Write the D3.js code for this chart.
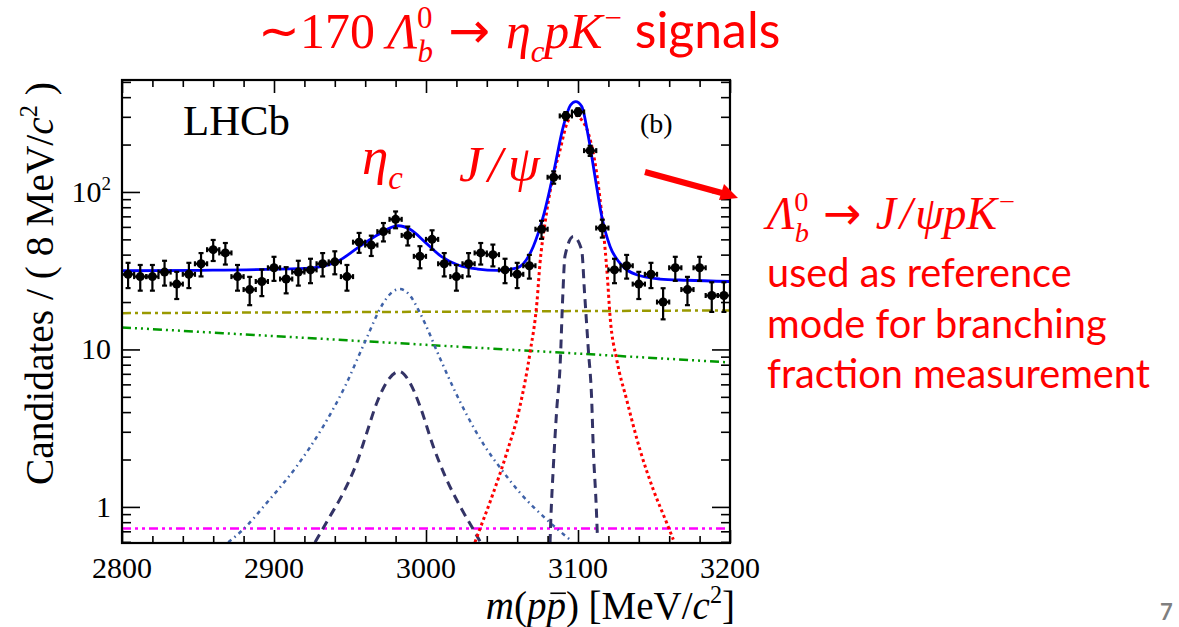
<!DOCTYPE html>
<html>
<head>
<meta charset="utf-8">
<script src="https://cdn.jsdelivr.net/npm/d3@7"></script>
<style>
  body { margin: 0; background: #fff; }
  svg { display: block; }
</style>
</head>
<body>
<svg id="chart" width="1179" height="627"></svg>
<script>
// bin centres (8 MeV bins) and candidate counts
var massBins = [2804, 2812, 2820, 2828, 2836, 2844, 2852, 2860, 2868, 2876,
  2884, 2892, 2900, 2908, 2916, 2924, 2932, 2940, 2948, 2956,
  2964, 2972, 2980, 2988, 2996, 3004, 3012, 3020, 3028, 3036,
  3044, 3052, 3060, 3068, 3076, 3084, 3092, 3100, 3108, 3116,
  3124, 3132, 3140, 3148, 3156, 3164, 3172, 3180, 3188, 3196];
var counts = [30, 29, 29, 31, 26, 30, 35, 43, 41, 29,
  24, 27, 33, 28, 31, 32, 35, 36, 29, 48,
  46, 56, 67, 53, 39, 50, 35, 29, 35, 41,
  40, 32, 30, 34, 58, 124, 304, 322, 183, 59,
  32, 34, 26, 30, 20, 33, 24, 33, 22, 22];

// fit curves: [mass, candidates]
var totalFit = [[2800, 31.6], [2851, 31.8], [2917, 32.6], [2929, 33.3], [2942, 36.3],
  [2955, 44.1], [2968, 53.3], [2981.6, 61.0], [2990, 57.5], [2999, 48.4],
  [3010, 39.0], [3021, 34.4], [3034, 32.4], [3047, 31.8], [3060, 33.0],
  [3070.6, 45.1], [3077.2, 70.2], [3083.8, 131], [3090.3, 260], [3095, 355],
  [3098.5, 375], [3102.4, 350], [3106.8, 225], [3111.2, 125], [3115.6, 70.2],
  [3121.1, 45.1], [3127.6, 35.3], [3138.6, 29.8], [3153.9, 28.0], [3171.5, 27.5], [3200, 27.0]];
var jpsiSignal = [[3032.2, 0.596], [3034.4, 0.68], [3044.3, 1.23], [3053.1, 2.2], [3061.8, 4.35],
  [3068.4, 9.5], [3073.0, 20], [3075.0, 35.3], [3078.3, 63.5], [3082.7, 114],
  [3088.2, 185], [3092.6, 270], [3097.4, 310], [3102.0, 290], [3106.8, 236],
  [3112.3, 131], [3116.2, 63.5], [3119.3, 29.1], [3121.1, 16.2], [3125.5, 8.6],
  [3132.0, 4.8], [3140.8, 2.3], [3149.5, 1.29], [3158.4, 0.79], [3162.7, 0.62]];
var jpsiNarrow = [[3081.6, 0.59], [3082.2, 0.87], [3083.8, 1.81], [3086.0, 4.14], [3088.2, 7.8],
  [3090.0, 22], [3091.4, 39], [3096.9, 52.1], [3102.4, 42.9], [3104.3, 23],
  [3106.8, 9.97], [3109.0, 4.8], [3110.1, 2.3], [3111.8, 1.11], [3112.7, 0.68]];
var etacNarrow = [[2927.0, 0.596], [2936.8, 0.87], [2945.6, 1.23], [2954.4, 1.90], [2961.0, 2.95],
  [2967.6, 4.57], [2975.2, 6.42], [2982.4, 7.25], [2989.5, 6.13], [2996.1, 4.35],
  [3004.8, 2.42], [3013.6, 1.49], [3022.4, 1.01], [3031.1, 0.72], [3035.5, 0.605]];
var etacBroad = [[2869.9, 0.596], [2879.8, 0.72], [2895.2, 1.06], [2914.9, 1.81], [2932.4, 3.25],
  [2946.7, 5.82], [2959.9, 11.2], [2971.9, 19.7], [2977, 22.8], [2982.9, 24.2],
  [2989, 22.3], [2996.1, 17.0], [3009.2, 8.8], [3018.0, 5.7], [3026.8, 3.85],
  [3038.8, 2.42], [3049.8, 1.72], [3061.8, 1.23], [3078.3, 0.85], [3094.7, 0.62]];
var bkgFlat = [[2800, 17.0], [3200, 17.7]];
var bkgExpo = [[2800, 13.8], [3000, 10.7], [3200, 8.27]];
var bkgSmall = [[2800, 0.73], [3200, 0.73]];

var xTickValues = [2800, 2900, 3000, 3100, 3200];
var xTickLabels = ["2800", "2900", "3000", "3100", "3200"];
var yTickValues = [1, 10, 100];
var yTickLabels = [["1"], ["10"], ["10", "2"]];
var yMinorTicks = [0.6, 0.7, 0.8, 0.9, 2, 3, 4, 5, 6, 7, 8, 9, 20, 30, 40, 50, 60, 70, 80, 90, 200, 300, 400, 500];

var SERIF = "'Liberation Serif', 'Times New Roman', serif";
var SANS = "Lato, 'Open Sans', sans-serif";
var ARROWFONT = "'DejaVu Sans', sans-serif";
var RED = "#ff0000";

var plot = {left: 122, right: 730, top: 80, bottom: 543};

var x = d3.scaleLinear().domain([2800, 3200]).range([plot.left, plot.right]);
var y = d3.scaleLog().domain([0.59, 514]).range([plot.bottom, plot.top]);

var svg = d3.select("#chart");
svg.append("rect").attr("width", 1179).attr("height", 627).attr("fill", "#fff");

svg.append("clipPath").attr("id", "clip")
  .append("rect")
    .attr("x", plot.left).attr("y", plot.top)
    .attr("width", plot.right - plot.left).attr("height", plot.bottom - plot.top);

// fit components
var line = d3.line()
  .x(function(d) { return x(d[0]); })
  .y(function(d) { return y(d[1]); })
  .curve(d3.curveMonotoneX);

var curves = [
  {data: bkgFlat, color: "#999900", dash: "9,4,3,4", width: 2.5},
  {data: bkgExpo, color: "#009900", dash: "9,4,2,4,2,4,2,4", width: 2.5},
  {data: bkgSmall, color: "#ff00ff", dash: "9,4,3,4,3,4", width: 2.5},
  {data: etacBroad, color: "#3f62a8", dash: "4,4,1.5,4", width: 2.5},
  {data: etacNarrow, color: "#333366", dash: "9,6", width: 3},
  {data: jpsiNarrow, color: "#333366", dash: "9,6", width: 3},
  {data: jpsiSignal, color: "#ff0000", dash: "3,3", width: 3},
  {data: totalFit, color: "#0000ff", dash: null, width: 2.8}
];

var curveG = svg.append("g").attr("clip-path", "url(#clip)");
curves.forEach(function(c) {
  curveG.append("path")
    .datum(c.data)
    .attr("d", line)
    .attr("fill", "none")
    .attr("stroke", c.color)
    .attr("stroke-width", c.width)
    .attr("stroke-dasharray", c.dash);
});

// data points with error bars
var points = massBins.map(function(m, i) { return {m: m, n: counts[i]}; });
var pt = svg.append("g").attr("clip-path", "url(#clip)")
  .selectAll("g").data(points).enter().append("g")
  .attr("stroke", "#000").attr("stroke-width", 2.2);

pt.append("line")
  .attr("x1", function(d) { return x(d.m); }).attr("x2", function(d) { return x(d.m); })
  .attr("y1", function(d) { return y(d.n + Math.sqrt(d.n)); })
  .attr("y2", function(d) { return y(d.n - Math.sqrt(d.n)); });
pt.append("line")
  .attr("x1", function(d) { return x(d.m - 4); }).attr("x2", function(d) { return x(d.m + 4); })
  .attr("y1", function(d) { return y(d.n); }).attr("y2", function(d) { return y(d.n); });
[1, -1].forEach(function(s) {
  pt.append("line")
    .attr("x1", function(d) { return x(d.m) - 2.5; }).attr("x2", function(d) { return x(d.m) + 2.5; })
    .attr("y1", function(d) { return y(d.n + s * Math.sqrt(d.n)); })
    .attr("y2", function(d) { return y(d.n + s * Math.sqrt(d.n)); });
  pt.append("line")
    .attr("x1", function(d) { return x(d.m + s * 4); }).attr("x2", function(d) { return x(d.m + s * 4); })
    .attr("y1", function(d) { return y(d.n) - 2.5; }).attr("y2", function(d) { return y(d.n) + 2.5; });
});
pt.append("circle")
  .attr("cx", function(d) { return x(d.m); })
  .attr("cy", function(d) { return y(d.n); })
  .attr("r", 4.5).attr("fill", "#000").attr("stroke", "none");

// axes: ROOT style, ticks inward on all four sides
var xMinor = d3.range(2820, 3200, 20).filter(function(v) { return v % 100 !== 0; });
function axisG(axis, tx, ty) {
  var g = svg.append("g").attr("transform", "translate(" + tx + "," + ty + ")").call(axis);
  g.select(".domain").remove();
  g.selectAll("line").attr("stroke", "#000").attr("stroke-width", 1.6);
  return g;
}
axisG(d3.axisBottom(x).tickValues(xTickValues).tickSize(-13).tickFormat(""), 0, plot.bottom);
axisG(d3.axisBottom(x).tickValues(xMinor).tickSize(-7).tickFormat(""), 0, plot.bottom);
axisG(d3.axisTop(x).tickValues(xTickValues).tickSize(-13).tickFormat(""), 0, plot.top);
axisG(d3.axisTop(x).tickValues(xMinor).tickSize(-7).tickFormat(""), 0, plot.top);
axisG(d3.axisLeft(y).tickValues(yTickValues).tickSize(-18).tickFormat(""), plot.left, 0);
axisG(d3.axisLeft(y).tickValues(yMinorTicks).tickSize(-9).tickFormat(""), plot.left, 0);
axisG(d3.axisRight(y).tickValues(yTickValues).tickSize(-18).tickFormat(""), plot.right, 0);
axisG(d3.axisRight(y).tickValues(yMinorTicks).tickSize(-9).tickFormat(""), plot.right, 0);

svg.append("rect")
  .attr("x", plot.left).attr("y", plot.top)
  .attr("width", plot.right - plot.left).attr("height", plot.bottom - plot.top)
  .attr("fill", "none").attr("stroke", "#000").attr("stroke-width", 2.2);

svg.append("g").selectAll("text").data(xTickValues).enter().append("text")
  .attr("x", function(d) { return x(d); })
  .attr("y", 578)
  .attr("text-anchor", "middle")
  .attr("font-family", SERIF).attr("font-size", 30)
  .text(function(d, i) { return xTickLabels[i]; });

yTickValues.forEach(function(v, i) {
  var t = svg.append("text")
    .attr("x", 111).attr("y", y(v) + 10)
    .attr("text-anchor", "end")
    .attr("font-family", SERIF).attr("font-size", 30);
  t.append("tspan").text(yTickLabels[i][0]);
  if (yTickLabels[i][1]) {
    t.append("tspan").text(yTickLabels[i][1]).attr("font-size", 19).attr("dy", -12);
  }
});

// rich text helper: parts with italic / sub / sup pieces
function richText(g, x0, y0, size, parts, opts) {
  opts = opts || {};
  var t = g.append("text")
    .attr("x", x0).attr("y", y0)
    .attr("font-size", size)
    .attr("font-family", opts.font || SERIF)
    .attr("fill", opts.fill || "#000")
    .attr("text-anchor", opts.anchor || "start");
  if (opts.transform) t.attr("transform", opts.transform);
  var cur = 0;
  parts.forEach(function(p) {
    var target = p.shift === "sub" ? 0.28 * size : p.shift === "sup" ? -0.40 * size : 0;
    var ts = t.append("tspan").text(p.t)
      .attr("font-size", (p.shift ? 0.62 : 1) * size * (p.scale || 1))
      .attr("dy", target - cur);
    cur = target;
    if (p.font) ts.attr("font-family", p.font);
    if (p.i) ts.attr("font-style", "italic");
    if (p.dx) ts.attr("dx", p.dx * size);
  });
  return t;
}
function fitText(g, x0, y0, base, parts, targetW, opts) {
  var t = richText(g, x0, y0, base, parts, opts);
  var w = t.node().getBBox().width;
  t.remove();
  return richText(g, x0, y0, base * targetW / w, parts, opts);
}

// axis titles
var xTitleSize = 39, xTitleY = 619;
var xTitle = richText(svg, 735, xTitleY, xTitleSize, [
  {t: "m", i: true}, {t: "("}, {t: "p", i: true}, {t: "p", i: true},
  {t: ") [MeV/"}, {t: "c", i: true}, {t: "2", shift: "sup"}, {t: "]"}
], {anchor: "end"});
// bar over the anti-proton
var pbar = xTitle.node().getExtentOfChar(3);
svg.append("line")
  .attr("x1", pbar.x + 4).attr("x2", pbar.x + pbar.width)
  .attr("y1", xTitleY - 0.66 * xTitleSize).attr("y2", xTitleY - 0.66 * xTitleSize)
  .attr("stroke", "#000").attr("stroke-width", 1.6);

fitText(svg, 0, 0, 32, [
  {t: "Candidates / ( 8 MeV/"}, {t: "c", i: true}, {t: "2", shift: "sup"}, {t: " )"}
], 403, {anchor: "end", transform: "translate(53,82) rotate(-90)"});

// in-plot labels
fitText(svg, 183, 135, 40, [{t: "LHCb"}], 107);
richText(svg, 640, 133, 28, [{t: "(b)"}]);
fitText(svg, 362, 174, 40, [{t: "η", i: true}, {t: "c", i: true, shift: "sub"}], 41, {fill: RED});
fitText(svg, 459, 181, 48, [
  {t: "J", i: true}, {t: "/", i: true, dx: 0.12}, {t: "ψ", i: true, dx: 0.1}
], 82, {fill: RED});

// title
fitText(svg, 258, 48, 36, [
  {t: "∼170 "}, {t: "Λ", i: true}, {t: "b", i: true, shift: "sub"}, {t: "0", shift: "sup", dx: -0.32},
  {t: " → ", font: ARROWFONT}, {t: "η", i: true}, {t: "c", i: true, shift: "sub"}, {t: "pK", i: true},
  {t: "−", shift: "sup", dx: 0.04}, {t: " signals", font: SANS}
], 522, {fill: RED});

// reference-mode annotation
fitText(svg, 767, 229, 44, [
  {t: "Λ", i: true}, {t: "b", i: true, shift: "sub"}, {t: "0", shift: "sup", dx: -0.32},
  {t: " → ", font: ARROWFONT}, {t: "J", i: true}, {t: "/", i: true, dx: 0.08},
  {t: "ψpK", i: true, dx: 0.06}, {t: "−", shift: "sup", dx: 0.04}
], 252, {fill: RED});
var probe = richText(svg, 0, 0, 40, [{t: "fraction measurement"}], {font: SANS});
var noteSize = 40 * 383 / probe.node().getBBox().width;
probe.remove();
["used as reference", "mode for branching", "fraction measurement"].forEach(function(s, i) {
  richText(svg, 767, 287 + i * 50.5, noteSize, [{t: s}], {font: SANS, fill: RED});
});

// arrow
svg.append("line")
  .attr("x1", 645).attr("y1", 172).attr("x2", 722).attr("y2", 193)
  .attr("stroke", RED).attr("stroke-width", 6);
svg.append("path")
  .attr("d", "M738,198 L719,200 L724,184 Z")
  .attr("fill", RED);

// slide number
svg.append("text")
  .attr("x", 1160).attr("y", 620)
  .attr("font-family", SANS).attr("font-weight", "bold").attr("font-size", 22)
  .attr("fill", "#7f7f7f")
  .text("7");
</script>
</body>
</html>
